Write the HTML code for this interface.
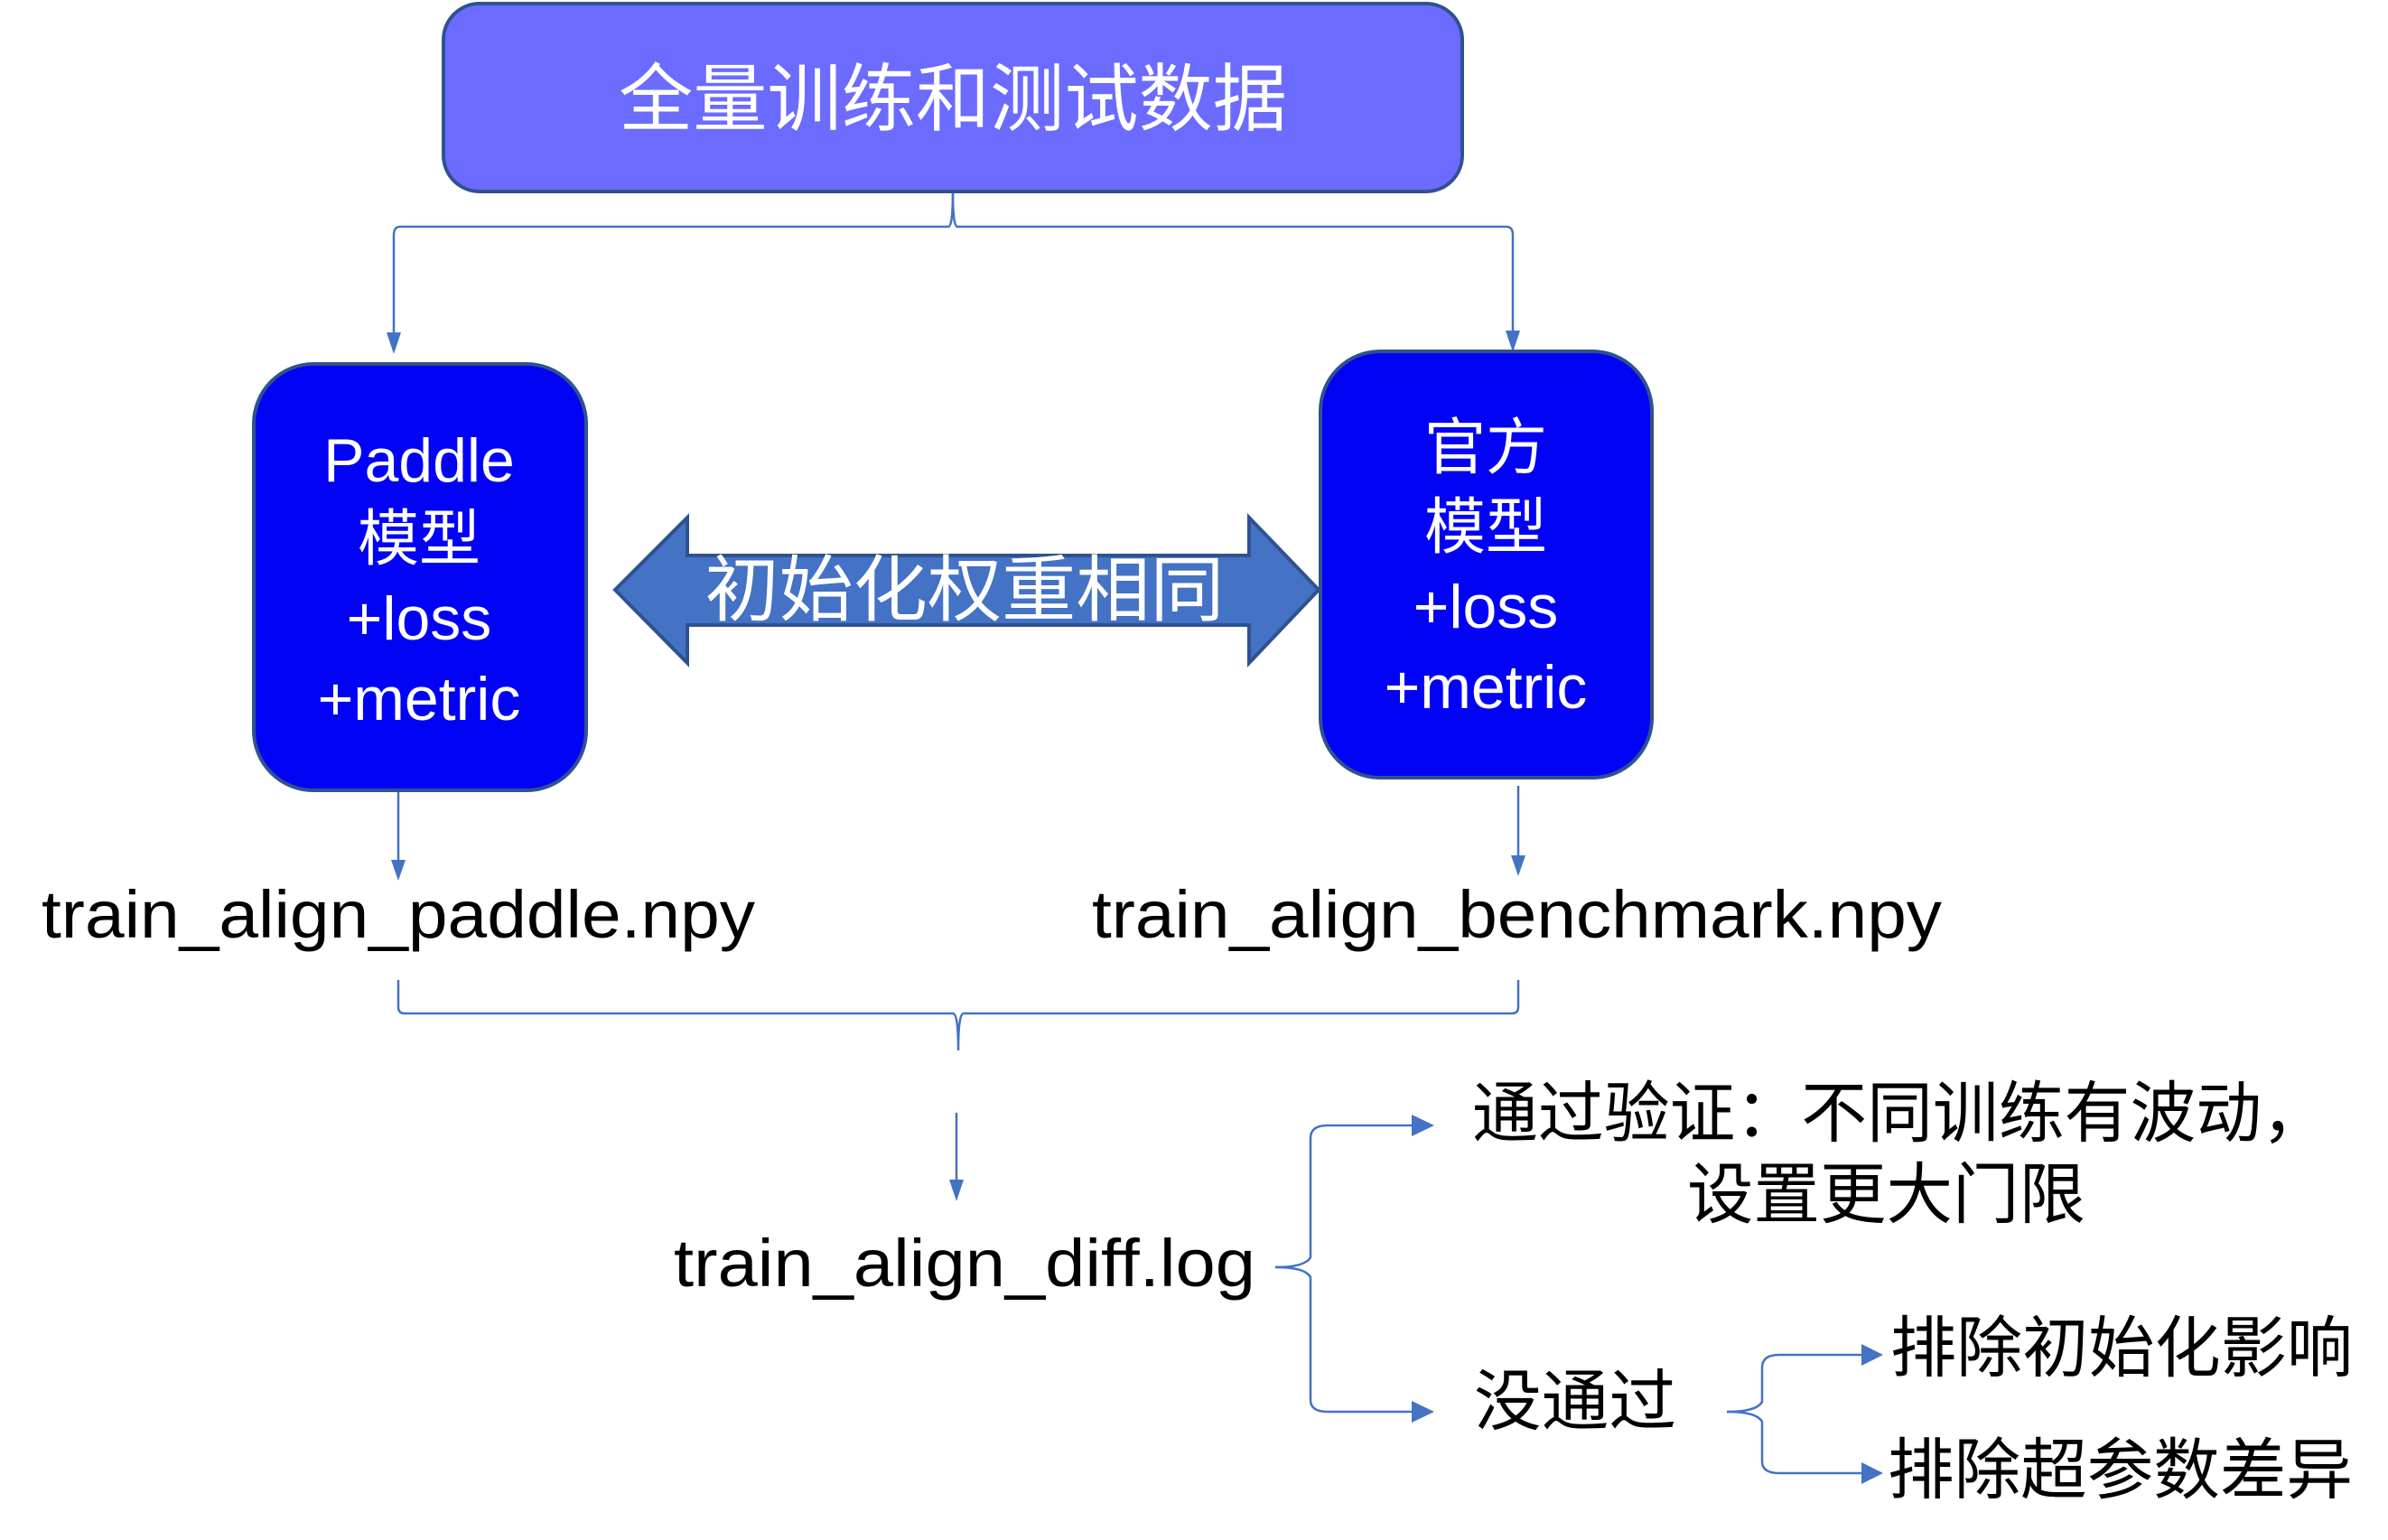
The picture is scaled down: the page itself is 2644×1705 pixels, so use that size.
<!DOCTYPE html>
<html><head><meta charset="utf-8"><style>html,body{margin:0;padding:0;background:#fff}svg{display:block}</style></head>
<body>
<svg width="2644" height="1705" viewBox="0 0 2644 1705" xmlns="http://www.w3.org/2000/svg" font-family="'Liberation Sans','Noto Sans CJK SC',sans-serif">
<defs>
<marker id="a" markerWidth="10" markerHeight="10" refX="9" refY="5" orient="auto" markerUnits="userSpaceOnUse" viewBox="0 0 10 10"><path d="M0,0 L10,5 L0,10 z" fill="#4472c4"/></marker>
<marker id="b" markerWidth="26" markerHeight="26" refX="24" refY="13" orient="auto" markerUnits="userSpaceOnUse" viewBox="0 0 26 26"><path d="M0,0 L26,13 L0,26 z" fill="#4472c4"/></marker>
</defs>
<g fill="none" stroke="#4472c4" stroke-width="2.5">
<!-- top bracket -->
<path d="M1055,212 Q1055,251 1050,251 L443,251 Q436,251 436,260 L436,372" />
<path d="M1055,212 Q1055,251 1060,251 L1668,251 Q1675,251 1675,260 L1675,370" />
<path d="M441,875 L441,955"/>
<path d="M1681,870 L1681,950"/>
<!-- middle bracket -->
<path d="M441,1085 L441,1115 Q441,1122 448,1122 L1055,1122 Q1061,1122 1061,1163 M1061,1163 Q1061,1122 1067,1122 L1674,1122 Q1681,1122 1681,1115 L1681,1085"/>
<path d="M1059,1232 L1059,1310"/>
<!-- right brackets -->
<path d="M1412,1403 Q1445,1403 1451,1392 L1451,1260 Q1451,1246 1470,1246 L1565,1246"/>
<path d="M1412,1403 Q1445,1403 1451,1414 L1451,1550 Q1451,1563 1470,1563 L1565,1563"/>
<path d="M1912,1563 Q1945,1563 1951,1552 L1951,1514 Q1951,1500 1970,1500 L2063,1500"/>
<path d="M1912,1563 Q1945,1563 1951,1574 L1951,1618 Q1951,1631 1970,1631 L2063,1631"/>
</g>
<g fill="#4472c4">
<path d="M428,368 L444,368 L436,392 z"/>
<path d="M1667,366 L1683,366 L1675,390 z"/>
<path d="M433,952 L449,952 L441,975 z"/>
<path d="M1673,947 L1689,947 L1681,970 z"/>
<path d="M1051,1306 L1067,1306 L1059,1330 z"/>
<path d="M1563,1234 L1588,1246 L1563,1258 z"/>
<path d="M1563,1551 L1588,1563 L1563,1575 z"/>
<path d="M2061,1488 L2085,1500 L2061,1512 z"/>
<path d="M2061,1619 L2085,1631 L2061,1643 z"/>
</g>
<!-- top box -->
<rect x="491" y="4" width="1128" height="208" rx="40" fill="#6b6bff" stroke="#2f528f" stroke-width="4"/>
<text x="1055" y="138" font-size="82" fill="#fff" text-anchor="middle" textLength="740" lengthAdjust="spacingAndGlyphs">全量训练和测试数据</text>
<!-- left box -->
<rect x="281" y="403" width="368" height="472" rx="66" fill="#0202f5" stroke="#2f528f" stroke-width="4"/>
<g font-size="68" fill="#fff" text-anchor="middle">
<text x="464" y="533">Paddle</text>
<text x="464" y="620">模型</text>
<text x="464" y="708">+loss</text>
<text x="464" y="797">+metric</text>
</g>
<!-- right box -->
<rect x="1462" y="389" width="367" height="472" rx="66" fill="#0202f5" stroke="#2f528f" stroke-width="4"/>
<g font-size="68" fill="#fff" text-anchor="middle">
<text x="1645" y="519">官方</text>
<text x="1645" y="607">模型</text>
<text x="1645" y="695">+loss</text>
<text x="1645" y="784">+metric</text>
</g>
<!-- double arrow -->
<path d="M681,653 L761,573 L761,615 L1383,615 L1383,573 L1460,653 L1383,734 L1383,692 L761,692 L761,734 z" fill="#4472c4" stroke="#2f528f" stroke-width="4"/>
<text x="1068" y="681" font-size="80" fill="#fff" text-anchor="middle" textLength="575" lengthAdjust="spacingAndGlyphs">初始化权重相同</text>
<!-- labels -->
<g font-size="74" fill="#000">
<text x="46" y="1038" textLength="790" lengthAdjust="spacingAndGlyphs">train_align_paddle.npy</text>
<text x="1209" y="1038" textLength="941" lengthAdjust="spacingAndGlyphs">train_align_benchmark.npy</text>
<text x="746" y="1424" textLength="644" lengthAdjust="spacingAndGlyphs">train_align_diff.log</text>
<text x="1630" y="1258" textLength="947" lengthAdjust="spacingAndGlyphs">通过验证：不同训练有波动，</text>
<text x="1868" y="1348" textLength="441" lengthAdjust="spacingAndGlyphs">设置更大门限</text>
<text x="1632" y="1577" textLength="224" lengthAdjust="spacingAndGlyphs">没通过</text>
<text x="2093" y="1518" textLength="512" lengthAdjust="spacingAndGlyphs">排除初始化影响</text>
<text x="2090" y="1653" textLength="515" lengthAdjust="spacingAndGlyphs">排除超参数差异</text>
</g>
</svg>
</body></html>
